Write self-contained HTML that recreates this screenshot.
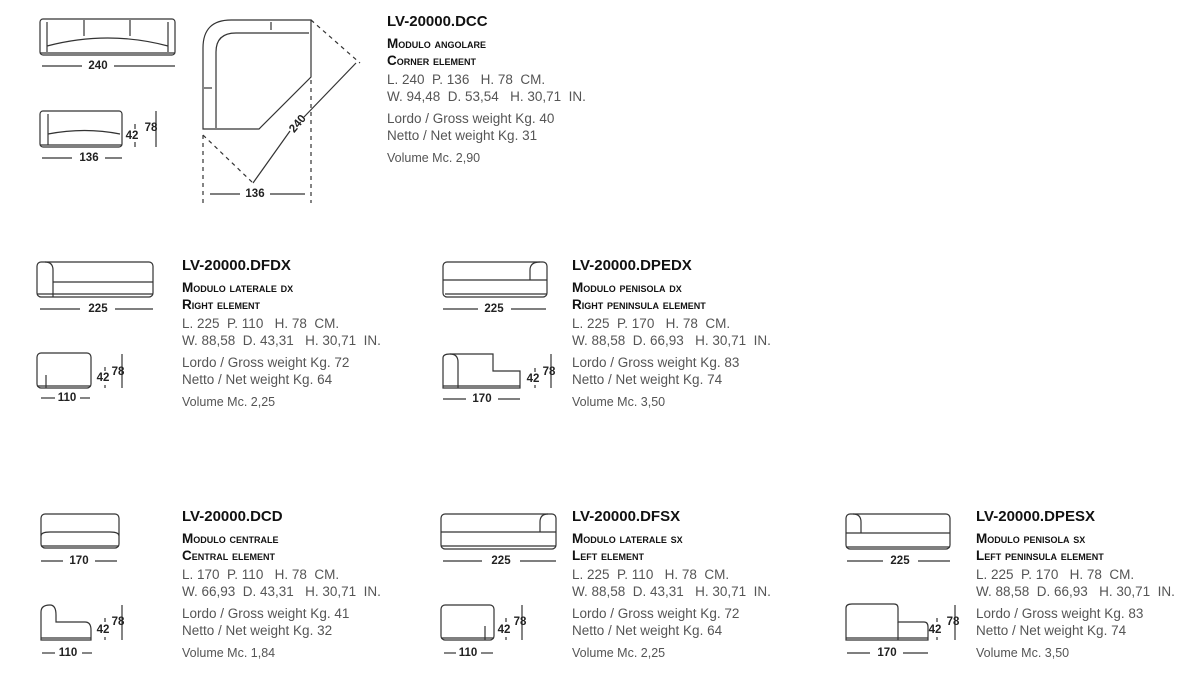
<!DOCTYPE html>
<html><head><meta charset="utf-8"><style>
body{margin:0;width:1197px;height:673px;background:#fff;position:relative;overflow:hidden;font-family:"Liberation Sans",sans-serif}
.b{position:absolute}
.b div{position:absolute;left:0;white-space:nowrap;line-height:16px;height:16px}
.t{font-size:15px;font-weight:bold;color:#111;top:-8px}
.m{font-size:13.5px;font-weight:bold;font-variant:small-caps;color:#111;top:14px}
.e{font-size:13.5px;font-weight:bold;font-variant:small-caps;color:#111;top:31px}
.l{font-size:13.5px;color:#555;top:50px}
.w{font-size:13.5px;color:#555;top:67px}
.g{font-size:13.5px;color:#555;top:89px}
.n{font-size:13.5px;color:#555;top:106px}
.v{font-size:12.5px;color:#555;top:128px}
svg{position:absolute;left:0;top:0}
svg text{font-family:"Liberation Sans",sans-serif;font-weight:bold;font-size:11.5px;fill:#222;text-anchor:middle;dominant-baseline:central}
</style></head><body>
<svg width="1197" height="673" stroke="#333" stroke-width="1.2" fill="none">
<!-- top front 240 -->
<rect x="40" y="19" width="135" height="36" rx="3"/>
<line x1="47" y1="22" x2="47" y2="52"/><line x1="168" y1="22" x2="168" y2="52"/>
<line x1="84" y1="20" x2="84" y2="36"/><line x1="130" y1="20" x2="130" y2="36"/>
<path d="M47 46 Q108 30 168 46"/><line x1="40" y1="53" x2="175" y2="53"/>
<line x1="42" y1="66" x2="82" y2="66"/><line x1="114" y1="66" x2="175" y2="66"/>
<text x="98" y="66" stroke="none">240</text>
<!-- side 136 -->
<rect x="40" y="111" width="82" height="36" rx="3"/>
<line x1="48" y1="114" x2="48" y2="145"/><path d="M48 134 Q85 127 120 134"/><line x1="40" y1="145" x2="122" y2="145"/>
<line x1="42" y1="158" x2="72" y2="158"/><line x1="105" y1="158" x2="122" y2="158"/>
<text x="89" y="158" stroke="none">136</text>
<line x1="135" y1="124" x2="135" y2="129"/><line x1="135" y1="142" x2="135" y2="147"/><text x="132" y="136" stroke="none">42</text>
<line x1="156" y1="111" x2="156" y2="147"/><text x="151" y="128" stroke="none">78</text>
<!-- corner -->
<path d="M203 129 L203 48 Q203 20 231 20 L311 20 L311 77 L259 129 Z"/>
<path d="M216 128 L216 52 Q216 33 236 33 L309 33"/>
<line x1="271" y1="22" x2="271" y2="30"/><line x1="204" y1="88" x2="212" y2="88"/>
<g stroke-dasharray="4,4"><line x1="311" y1="20" x2="360" y2="63"/><line x1="203" y1="135" x2="253" y2="183"/>
<line x1="203" y1="135" x2="203" y2="203"/><line x1="311" y1="80" x2="311" y2="203"/></g>
<line x1="356" y1="63" x2="304" y2="117"/><line x1="290" y1="131" x2="253" y2="183"/>
<text x="298" y="124" stroke="none" transform="rotate(-50 298 124)">240</text>
<line x1="210" y1="194" x2="240" y2="194"/><line x1="270" y1="194" x2="305" y2="194"/>
<text x="255" y="194" stroke="none">136</text>
<!-- DFDX -->
<rect x="37" y="262" width="116" height="35" rx="4"/><path d="M53 297 L53 270 Q53 262 45 262"/><line x1="53" y1="282" x2="153" y2="282"/><line x1="37" y1="294" x2="153" y2="294"/>
<line x1="40" y1="309" x2="80" y2="309"/><line x1="115" y1="309" x2="153" y2="309"/><text x="98" y="309" stroke="none">225</text>
<rect x="37" y="353" width="54" height="35" rx="4"/><line x1="46" y1="375" x2="46" y2="388"/><line x1="37" y1="386" x2="91" y2="386"/>
<line x1="41" y1="398" x2="55" y2="398"/><line x1="80" y1="398" x2="90" y2="398"/><text x="67" y="398" stroke="none">110</text>
<line x1="105" y1="367" x2="105" y2="371"/><line x1="105" y1="385" x2="105" y2="388"/><text x="103" y="378" stroke="none">42</text>
<line x1="122" y1="354" x2="122" y2="388"/><text x="118" y="372" stroke="none">78</text>
<!-- DPEDX -->
<rect x="443" y="262" width="104" height="35" rx="4"/><path d="M530 280 L530 270 Q530 262 540 262"/><line x1="443" y1="280" x2="547" y2="280"/><line x1="445" y1="294" x2="547" y2="294"/>
<line x1="443" y1="309" x2="478" y2="309"/><line x1="511" y1="309" x2="546" y2="309"/><text x="494" y="309" stroke="none">225</text>
<path d="M443 388 L443 358 Q443 354 450 354 L493 354 L493 371 L520 371 L520 388 Z"/><path d="M458 388 L458 362 Q458 354 450 354"/><line x1="443" y1="386" x2="520" y2="386"/>
<line x1="443" y1="399" x2="466" y2="399"/><line x1="498" y1="399" x2="520" y2="399"/><text x="482" y="399" stroke="none">170</text>
<line x1="535" y1="368" x2="535" y2="372"/><line x1="535" y1="385" x2="535" y2="388"/><text x="533" y="379" stroke="none">42</text>
<line x1="551" y1="354" x2="551" y2="388"/><text x="549" y="372" stroke="none">78</text>
<!-- DCD -->
<rect x="41" y="514" width="78" height="34" rx="4"/><path d="M41 536 Q41 532 50 532 L110 532 Q119 532 119 536"/><line x1="41" y1="546" x2="119" y2="546"/>
<line x1="41" y1="561" x2="63" y2="561"/><line x1="95" y1="561" x2="117" y2="561"/><text x="79" y="561" stroke="none">170</text>
<path d="M41 640 L41 612 Q41 605 50 605 Q56 605 56 615 L56 622 L85 622 Q91 622 91 630 L91 640 Z"/><line x1="41" y1="638" x2="91" y2="638"/>
<line x1="42" y1="653" x2="55" y2="653"/><line x1="82" y1="653" x2="92" y2="653"/><text x="68" y="653" stroke="none">110</text>
<line x1="105" y1="618" x2="105" y2="622"/><line x1="105" y1="637" x2="105" y2="640"/><text x="103" y="630" stroke="none">42</text>
<line x1="122" y1="605" x2="122" y2="640"/><text x="118" y="622" stroke="none">78</text>
<!-- DFSX -->
<rect x="441" y="514" width="115" height="35" rx="4"/><path d="M540 532 L540 522 Q540 514 548 514"/><line x1="441" y1="532" x2="556" y2="532"/><line x1="441" y1="546" x2="556" y2="546"/>
<line x1="443" y1="561" x2="482" y2="561"/><line x1="520" y1="561" x2="556" y2="561"/><text x="501" y="561" stroke="none">225</text>
<rect x="441" y="605" width="53" height="35" rx="4"/><line x1="485" y1="626" x2="485" y2="640"/><line x1="441" y1="638" x2="494" y2="638"/>
<line x1="444" y1="653" x2="456" y2="653"/><line x1="481" y1="653" x2="493" y2="653"/><text x="468" y="653" stroke="none">110</text>
<line x1="506" y1="618" x2="506" y2="622"/><line x1="506" y1="637" x2="506" y2="640"/><text x="504" y="630" stroke="none">42</text>
<line x1="522" y1="605" x2="522" y2="640"/><text x="520" y="622" stroke="none">78</text>
<!-- DPESX -->
<rect x="846" y="514" width="104" height="35" rx="4"/><path d="M861 533 L861 522 Q861 514 853 514"/><line x1="846" y1="533" x2="950" y2="533"/><line x1="846" y1="547" x2="950" y2="547"/>
<line x1="847" y1="561" x2="883" y2="561"/><line x1="918" y1="561" x2="950" y2="561"/><text x="900" y="561" stroke="none">225</text>
<path d="M846 640 L846 608 Q846 604 852 604 L894 604 Q898 604 898 608 L898 622 L924 622 Q928 622 928 627 L928 640 Z"/><line x1="898" y1="622" x2="898" y2="640"/><line x1="846" y1="638" x2="928" y2="638"/>
<line x1="847" y1="653" x2="870" y2="653"/><line x1="903" y1="653" x2="928" y2="653"/><text x="887" y="653" stroke="none">170</text>
<line x1="937" y1="618" x2="937" y2="622"/><line x1="937" y1="637" x2="937" y2="640"/><text x="935" y="630" stroke="none">42</text>
<line x1="955" y1="605" x2="955" y2="640"/><text x="953" y="622" stroke="none">78</text>
</svg>

<div class="b" style="left:387px;top:22px"><div class="t">LV-20000.DCC</div><div class="m">Modulo angolare</div><div class="e">Corner element</div><div class="l">L. 240&nbsp; P. 136&nbsp;&nbsp; H. 78&nbsp; CM.</div><div class="w">W. 94,48&nbsp; D. 53,54&nbsp;&nbsp; H. 30,71&nbsp; IN.</div><div class="g">Lordo / Gross weight Kg. 40</div><div class="n">Netto / Net weight Kg. 31</div><div class="v">Volume Mc. 2,90</div></div>

<div class="b" style="left:182px;top:266px"><div class="t">LV-20000.DFDX</div><div class="m">Modulo laterale dx</div><div class="e">Right element</div><div class="l">L. 225&nbsp; P. 110&nbsp;&nbsp; H. 78&nbsp; CM.</div><div class="w">W. 88,58&nbsp; D. 43,31&nbsp;&nbsp; H. 30,71&nbsp; IN.</div><div class="g">Lordo / Gross weight Kg. 72</div><div class="n">Netto / Net weight Kg. 64</div><div class="v">Volume Mc. 2,25</div></div>

<div class="b" style="left:572px;top:266px"><div class="t">LV-20000.DPEDX</div><div class="m">Modulo penisola dx</div><div class="e">Right peninsula element</div><div class="l">L. 225&nbsp; P. 170&nbsp;&nbsp; H. 78&nbsp; CM.</div><div class="w">W. 88,58&nbsp; D. 66,93&nbsp;&nbsp; H. 30,71&nbsp; IN.</div><div class="g">Lordo / Gross weight Kg. 83</div><div class="n">Netto / Net weight Kg. 74</div><div class="v">Volume Mc. 3,50</div></div>

<div class="b" style="left:182px;top:517px"><div class="t">LV-20000.DCD</div><div class="m">Modulo centrale</div><div class="e">Central element</div><div class="l">L. 170&nbsp; P. 110&nbsp;&nbsp; H. 78&nbsp; CM.</div><div class="w">W. 66,93&nbsp; D. 43,31&nbsp;&nbsp; H. 30,71&nbsp; IN.</div><div class="g">Lordo / Gross weight Kg. 41</div><div class="n">Netto / Net weight Kg. 32</div><div class="v">Volume Mc. 1,84</div></div>

<div class="b" style="left:572px;top:517px"><div class="t">LV-20000.DFSX</div><div class="m">Modulo laterale sx</div><div class="e">Left element</div><div class="l">L. 225&nbsp; P. 110&nbsp;&nbsp; H. 78&nbsp; CM.</div><div class="w">W. 88,58&nbsp; D. 43,31&nbsp;&nbsp; H. 30,71&nbsp; IN.</div><div class="g">Lordo / Gross weight Kg. 72</div><div class="n">Netto / Net weight Kg. 64</div><div class="v">Volume Mc. 2,25</div></div>

<div class="b" style="left:976px;top:517px"><div class="t">LV-20000.DPESX</div><div class="m">Modulo penisola sx</div><div class="e">Left peninsula element</div><div class="l">L. 225&nbsp; P. 170&nbsp;&nbsp; H. 78&nbsp; CM.</div><div class="w">W. 88,58&nbsp; D. 66,93&nbsp;&nbsp; H. 30,71&nbsp; IN.</div><div class="g">Lordo / Gross weight Kg. 83</div><div class="n">Netto / Net weight Kg. 74</div><div class="v">Volume Mc. 3,50</div></div>
</body></html>
